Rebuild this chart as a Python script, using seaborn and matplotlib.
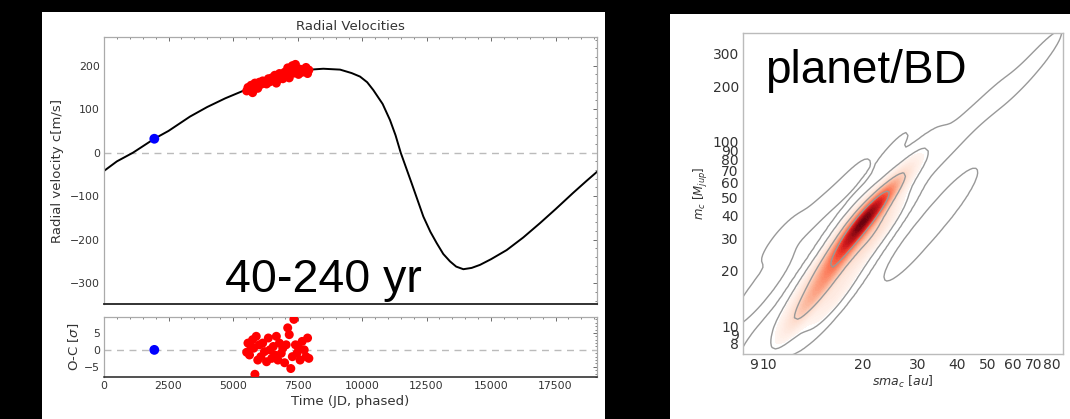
import numpy as np
import pandas as pd
import matplotlib
matplotlib.use("Agg")
import matplotlib.pyplot as plt
import seaborn as sns
from matplotlib.patches import Rectangle
from matplotlib.ticker import FixedLocator, FixedFormatter, NullLocator, MultipleLocator, AutoMinorLocator

sns.set_theme(style="white")
plt.rcParams['font.family'] = ['DejaVu Sans']

# ---------------- data ----------------
# Keplerian model curve (time [d, phased], RV [m/s])
model_t = [0, 500, 1124, 1950, 2500, 3333, 4000, 4700, 5465, 6000, 6500, 7000, 7500,
           8000, 8500, 9150, 9600, 9923, 10200, 10438, 10800, 11085, 11300, 11500,
           11922, 12378, 12650, 12895, 13150, 13411, 13650, 13928, 14250, 14574,
           15000, 15607, 16250, 16899, 17500, 18191, 18700, 19108]
model_rv = [-42, -20, 0, 32, 50, 83, 105, 125, 144, 158, 170, 180, 187,
            191, 193, 191, 183, 175, 162, 144, 112, 75, 40, 0,
            -70, -147, -182, -208, -233, -250, -262, -268, -265, -258,
            -245, -224, -195, -162, -130, -92, -65, -44]

# old measurement (blue)
blue_t = [1950]
blue_rv = [32]
blue_res = [0.0]

# recent measurements (red)
red_t = [5530, 5580, 5640, 5700, 5760, 5800, 5850, 5900, 5960, 6020, 6080, 6150, 6220,
         6300, 6370, 6430, 6500, 6560, 6620, 6680, 6740, 6800, 6870, 6930, 7000, 7060,
         7120, 7180, 7240, 7300, 7360, 7420, 7480, 7540, 7600, 7680, 7760, 7830, 7890, 7940]
red_rv = [142, 150, 147, 155, 138, 145, 160, 152, 148, 162, 157, 165, 160,
          158, 170, 163, 172, 166, 178, 160, 168, 182, 175, 170, 185, 178,
          195, 172, 190, 200, 183, 203, 188, 180, 192, 185, 188, 196, 182, 190]
red_res = [-0.7, 2.0, -1.5, 1.0, 3.0, 0.5, -7.2, 4.0, -3.0, 1.5, -2.0, 2.0, -0.5,
           -3.5, 3.5, 0.0, -2.5, 1.0, -1.5, 4.0, -3.0, 2.0, -1.0, 0.5, -3.8, 1.5,
           6.5, 4.5, -5.5, -2.0, 9.0, 1.5, -1.0, 0.5, -3.0, 2.5, 0.0, -2.0, 3.5, -2.5]

# posterior sample representatives for companion (semi-major axis [au], mass [M_jup], weight)
kde_sma = [20, 21, 19, 18, 17, 16, 15, 14, 13, 12, 22, 24, 26, 28,
           15, 17, 18, 22, 13, 20, 24,
           14, 13, 16, 19, 16, 19, 23, 12, 15, 21,
           35, 38, 30, 28,
           9.5, 9.0, 10.0, 11, 14, 18, 25,
           33, 40, 50, 60, 70, 78]
kde_mass = [37, 40, 33, 28, 24, 20, 17, 14, 12, 10, 45, 52, 60, 70,
            22, 16, 35, 32, 15, 25, 40,
            18, 13, 14, 22, 25, 40, 36, 12, 12, 30,
            40, 48, 30, 25,
            9, 14, 18, 30, 40, 60, 90,
            80, 110, 160, 200, 260, 330]
kde_w = [7, 9, 6, 5, 4, 3.5, 3, 2.5, 1.5, 1, 5, 2.5, 1.5, 0.8,
         1.5, 1.0, 1.5, 1.5, 1.0, 0.8, 0.6,
         1.5, 1.2, 1.0, 1.0, 1.5, 1.5, 1.2, 0.8, 0.8, 1.0,
         0.4, 0.3, 0.3, 0.2,
         0.25, 0.25, 0.25, 0.2, 0.2, 0.2, 0.15,
         0.3, 0.25, 0.2, 0.15, 0.12, 0.1]

x_ticks = [9, 10, 20, 30, 40, 50, 60, 70, 80]
y_ticks = [8, 9, 10, 20, 30, 40, 50, 60, 70, 80, 90, 100, 200, 300]

# ---------------- figure ----------------
W, H = 1070, 419
fig = plt.figure(figsize=(W / 100, H / 100), dpi=100, facecolor="black")

def px_axes(x0, y0, x1, y1):
    return fig.add_axes([x0 / W, 1 - y1 / H, (x1 - x0) / W, (y1 - y0) / H])

# white panels
fig.patches.append(Rectangle((42 / W, 0), (605 - 42) / W, 1 - 12 / H,
                             transform=fig.transFigure, facecolor="white", edgecolor="none", zorder=-5))
fig.patches.append(Rectangle((670 / W, 0), (1070 - 670) / W, 1 - 14 / H,
                             transform=fig.transFigure, facecolor="white", edgecolor="none", zorder=-5))

tick_col = "#333333"
spine_col = "#aaaaaa"

# ---- main RV axes ----
ax = px_axes(104, 37, 597, 304)
ax.set_facecolor("white")
sns.lineplot(x=model_t, y=model_rv, sort=False, estimator=None, color="black", lw=1.4, ax=ax, zorder=2)
ax.axhline(0, color="#bbbbbb", ls="--", lw=1.0, dashes=(5, 4), zorder=1)
sns.scatterplot(x=red_t, y=red_rv, color="#ff0000", s=42, edgecolor="none", ax=ax, zorder=3)
sns.scatterplot(x=blue_t, y=blue_rv, color="#0000ff", s=50, edgecolor="none", ax=ax, zorder=3)
ax.set_xlim(0, 19108)
ax.set_ylim(-348, 266)
ax.set_title("Radial Velocities", fontsize=9.5, color=tick_col, pad=5)
ax.set_ylabel("Radial velocity c[m/s]", fontsize=9.5, color=tick_col, labelpad=4)
ax.yaxis.set_major_locator(MultipleLocator(100))
ax.yaxis.set_minor_locator(AutoMinorLocator(5))
ax.xaxis.set_major_locator(MultipleLocator(2500))
ax.xaxis.set_minor_locator(AutoMinorLocator(5))
ax.tick_params(axis="both", which="both", direction="in", top=True, right=True,
               labelsize=7.8, colors=tick_col, labelbottom=False, pad=3)
ax.tick_params(which="major", length=3, width=0.6, color="#555555")
ax.tick_params(which="minor", length=1.5, width=0.5, color="#555555")
for s in ["left", "top", "right"]:
    ax.spines[s].set_color(spine_col)
    ax.spines[s].set_linewidth(0.9)
ax.spines["bottom"].set_color("#222222")
ax.spines["bottom"].set_linewidth(1.3)

# ---- residual axes ----
ar = px_axes(104, 317, 597, 377)
ar.set_facecolor("white")
ar.axhline(0, color="#bbbbbb", ls="--", lw=1.0, dashes=(5, 4), zorder=1)
sns.scatterplot(x=red_t, y=red_res, color="#ff0000", s=42, edgecolor="none", ax=ar, zorder=3)
sns.scatterplot(x=blue_t, y=blue_res, color="#0000ff", s=50, edgecolor="none", ax=ar, zorder=3)
ar.set_xlim(0, 19108)
ar.set_ylim(-8, 9.7)
ar.set_ylabel("O-C [$\\sigma$]", fontsize=9.5, color=tick_col, labelpad=2)
ar.set_xlabel("Time (JD, phased)", fontsize=9.5, color=tick_col, labelpad=3)
ar.xaxis.set_major_locator(MultipleLocator(2500))
ar.xaxis.set_minor_locator(AutoMinorLocator(5))
ar.yaxis.set_major_locator(MultipleLocator(5))
ar.yaxis.set_minor_locator(AutoMinorLocator(5))
ar.tick_params(axis="both", which="both", direction="in", top=True, right=True,
               labelsize=7.8, colors=tick_col, pad=3)
ar.tick_params(which="major", length=3, width=0.6, color="#555555")
ar.tick_params(which="minor", length=1.5, width=0.5, color="#555555")
for s in ["left", "top", "right"]:
    ar.spines[s].set_color(spine_col)
    ar.spines[s].set_linewidth(0.9)
ar.spines["bottom"].set_color("#222222")
ar.spines["bottom"].set_linewidth(1.1)

# ---- KDE axes ----
ak = px_axes(743, 33, 1063, 354)
ak.set_facecolor("white")
kdf = pd.DataFrame({"sma": kde_sma, "mass": kde_mass, "w": kde_w})
bw = 0.8
sns.kdeplot(data=kdf, x="sma", y="mass", weights="w", log_scale=True, fill=True,
            cmap="Reds", levels=60, thresh=0.1, bw_adjust=bw, gridsize=200, ax=ak)
sns.kdeplot(data=kdf, x="sma", y="mass", weights="w", log_scale=True, fill=False,
            colors="#999999", linewidths=1.0, levels=[0.01, 0.08, 0.3, 0.65],
            bw_adjust=bw, gridsize=200, cut=6, ax=ak)
ak.set_xlim(8.3, 87)
ak.set_ylim(7.05, 390)
ak.xaxis.set_major_locator(FixedLocator(x_ticks))
ak.xaxis.set_major_formatter(FixedFormatter([str(v) for v in x_ticks]))
ak.xaxis.set_minor_locator(NullLocator())
ak.yaxis.set_major_locator(FixedLocator(y_ticks))
ak.yaxis.set_major_formatter(FixedFormatter([str(v) for v in y_ticks]))
ak.yaxis.set_minor_locator(NullLocator())
ak.tick_params(axis="both", which="both", length=0, labelsize=10, colors=tick_col, pad=3)
ak.set_xlabel("$sma_c$ [$au$]", fontsize=9, color=tick_col, labelpad=1)
ak.set_ylabel("$m_c$ [$M_{jup}$]", fontsize=8.5, color=tick_col, labelpad=2)
for s in ak.spines.values():
    s.set_color("#bbbbbb")
    s.set_linewidth(1.0)
    s.set_visible(True)

# ---- overlay annotations ----
fig.text(225 / W, 1 - 292 / H, "40-240 yr", fontsize=33.5, color="black",
         family=["Liberation Sans", "DejaVu Sans"], ha="left", va="baseline")
fig.text(765 / W, 1 - 83 / H, "planet/BD", fontsize=33, color="black",
         family=["Liberation Sans", "DejaVu Sans"], ha="left", va="baseline")

fig.savefig("out.png", dpi=100, facecolor="black")
